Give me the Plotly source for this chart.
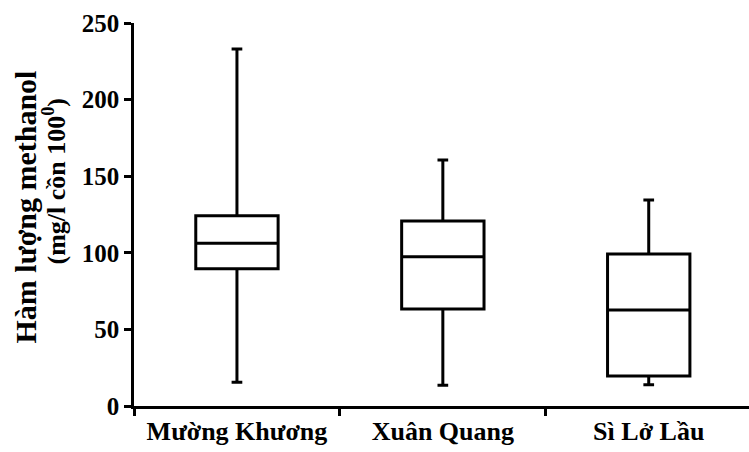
import plotly.graph_objects as go

categories = ["Mường Khương", "Xuân Quang", "Sì Lở Lầu"]
q1 = [89.6, 63.3, 19.6]
median = [106.2, 97.5, 62.7]
q3 = [124.2, 120.8, 99.2]
lower = [15.5, 13.5, 13.9]
upper = [233.0, 160.6, 134.5]

y_ticks = [0, 50, 100, 150, 200, 250]
y_title_lines = ["Hàm lượng methanol", "(mg/l cồn 100<sup>0</sup>)"]

font_family = "Liberation Serif"

fig = go.Figure()
fig.add_trace(go.Box(
    x=categories,
    q1=q1, median=median, q3=q3,
    lowerfence=lower, upperfence=upper,
    fillcolor="white",
    line=dict(color="black", width=3),
    width=0.4,
    whiskerwidth=0.13,
    boxpoints=False,
    showlegend=False,
    hoverinfo="skip",
))

fig.update_layout(
    width=749, height=452,
    margin=dict(l=134, r=0, t=23, b=46),
    paper_bgcolor="white", plot_bgcolor="white",
    font=dict(family=font_family, color="black"),
    xaxis=dict(
        type="category",
        range=[-0.5, 2.487],
        showline=True, linecolor="black", linewidth=2.5,
        ticks="outside", tickson="boundaries", ticklen=7, tickwidth=2.5, tickcolor="black",
        tickfont=dict(family=font_family, size=26, color="black", weight="bold"),
        showgrid=False, zeroline=False,
    ),
    yaxis=dict(
        range=[0, 250],
        tickvals=y_ticks,
        showline=True, linecolor="black", linewidth=2.5,
        ticks="outside", ticklen=7, tickwidth=2.5, tickcolor="black",
        tickfont=dict(family=font_family, size=25, color="black", weight="bold"),
        showgrid=False, zeroline=False,
    ),
)

for line_text, xs, ys, fs in zip(y_title_lines, [-109, -79], [7, 33], [30, 26]):
    fig.add_annotation(
        text=line_text, textangle=-90,
        xref="paper", yref="paper", x=0, y=0.5,
        xanchor="center", yanchor="middle", xshift=xs, yshift=ys,
        showarrow=False,
        font=dict(family=font_family, size=fs, color="black", weight="bold"),
    )

fig.write_html(
    "out.html",
    config={"displayModeBar": False},
    post_script="document.body.style.margin='0';document.body.style.overflow='hidden';",
)
